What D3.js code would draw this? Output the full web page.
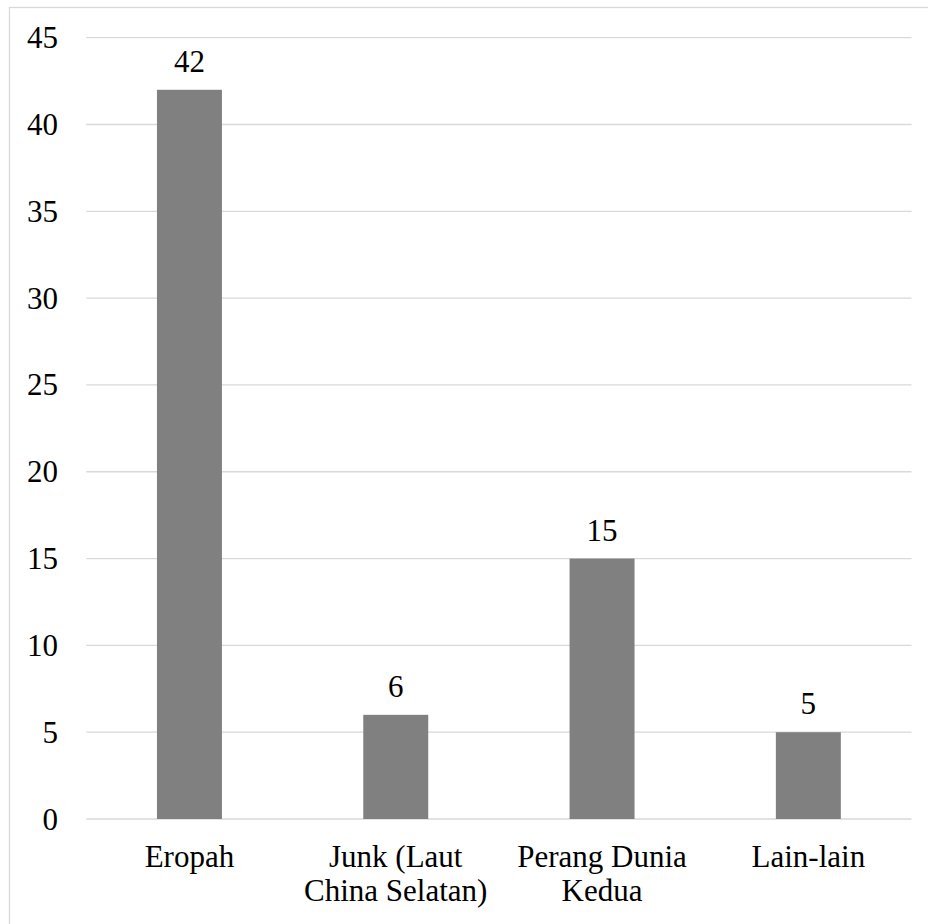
<!DOCTYPE html>
<html><head><meta charset="utf-8">
<script src="https://cdn.jsdelivr.net/npm/d3@7"></script>
<style>html,body{margin:0;padding:0;background:#fff;}svg{display:block;}
svg text{font-family:"Liberation Serif","Times New Roman",Times,serif;}</style>
</head><body>
<script>
const categories = [["Eropah"], ["Junk (Laut", "China Selatan)"], ["Perang Dunia", "Kedua"], ["Lain-lain"]];
const values = [42, 6, 15, 5];
const yTicks = [0, 5, 10, 15, 20, 25, 30, 35, 40, 45];

const W = 928, H = 924;
const fs = 31;
const svg = d3.select("body").append("svg").attr("width", W).attr("height", H);
svg.append("rect").attr("x", 9.5).attr("y", 7.5).attr("width", W + 10).attr("height", H + 10)
  .attr("fill", "#fff").attr("stroke", "#d9d9d9").attr("stroke-width", 1.3);

const keys = categories.map(c => c.join(" "));
const x = d3.scaleBand().domain(keys).range([86.3, 911.5]).paddingInner(0.685).paddingOuter(0.3425);
const y = d3.scaleLinear().domain([0, 45]).range([819, 37.7]);

svg.append("g").selectAll("line").data(yTicks).join("line")
  .attr("x1", 86.3).attr("x2", 911.5).attr("y1", d => y(d)).attr("y2", d => y(d))
  .attr("stroke", "#d9d9d9").attr("stroke-width", 1.3);

svg.append("g").selectAll("text").data(yTicks).join("text")
  .attr("x", 58).attr("y", d => y(d)).attr("dy", "0.34em").attr("text-anchor", "end")
  .style("font-size", fs + "px").attr("fill", "#000").text(d => d);

svg.append("g").selectAll("rect").data(values).join("rect")
  .attr("x", (d, i) => x(keys[i])).attr("width", x.bandwidth())
  .attr("y", d => y(d)).attr("height", d => y(0) - y(d)).attr("fill", "#808080");

svg.append("g").selectAll("text").data(values).join("text")
  .attr("x", (d, i) => x(keys[i]) + x.bandwidth() / 2).attr("y", d => y(d) - 18)
  .attr("text-anchor", "middle").style("font-size", fs + "px").attr("fill", "#000").text(d => d);

const xl = svg.append("g").selectAll("text").data(categories).join("text")
  .attr("x", (d, i) => x(keys[i]) + x.bandwidth() / 2).attr("y", 867)
  .attr("text-anchor", "middle").style("font-size", fs + "px").attr("fill", "#000");
xl.selectAll("tspan").data(d => d).join("tspan")
  .attr("x", function() { return d3.select(this.parentNode).attr("x"); })
  .attr("dy", (d, i) => i === 0 ? 0 : 34).text(d => d);
</script>
</body></html>
